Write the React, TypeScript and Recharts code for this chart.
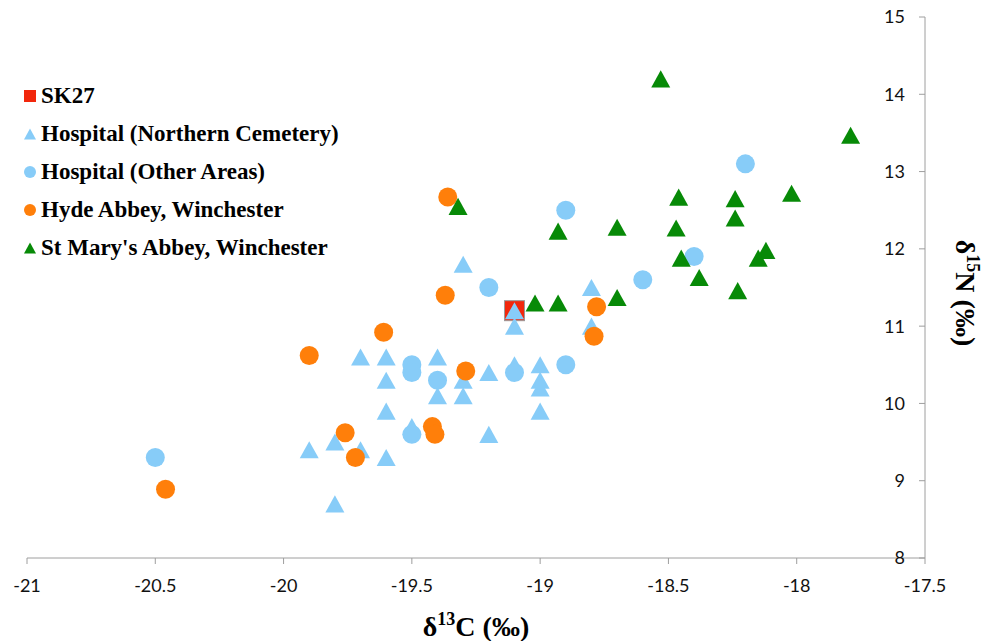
import React from 'react'
import { ScatterChart, Scatter, XAxis, YAxis, Legend } from 'recharts'

// values (δ13C, δ15N)
const sk27 = [[-19.1, 11.2]]
const hospitalNorthern = [
  [-19.8, 8.7], [-19.9, 9.4], [-19.8, 9.5], [-19.7, 9.4], [-19.6, 9.3], [-19.6, 9.9],
  [-19.6, 10.3], [-19.6, 10.6], [-19.7, 10.6], [-19.5, 9.7], [-19.4, 10.1], [-19.4, 10.6],
  [-19.3, 10.1], [-19.3, 10.3], [-19.3, 11.8], [-19.2, 9.6], [-19.2, 10.4], [-19.1, 10.5],
  [-19.1, 11.0], [-19.1, 11.2], [-19.0, 9.9], [-19.0, 10.2], [-19.0, 10.3], [-19.0, 10.5],
  [-18.8, 11.0], [-18.8, 11.5],
]
const hospitalOther = [
  [-20.5, 9.3], [-19.5, 10.5], [-19.5, 10.4], [-19.5, 9.6], [-19.4, 10.3], [-19.2, 11.5],
  [-19.1, 10.4], [-18.9, 10.5], [-18.9, 12.5], [-18.6, 11.6], [-18.4, 11.9], [-18.2, 13.1],
]
const hydeAbbey = [
  [-20.46, 8.89], [-19.9, 10.62], [-19.76, 9.62], [-19.72, 9.3], [-19.61, 10.92], [-19.42, 9.7],
  [-19.41, 9.6], [-19.37, 11.4], [-19.36, 12.67], [-19.29, 10.42], [-18.79, 10.87], [-18.78, 11.25],
]
const stMarys = [
  [-18.53, 14.2], [-17.79, 13.47], [-18.46, 12.67], [-18.24, 12.65], [-18.02, 12.72], [-18.24, 12.4],
  [-18.7, 12.28], [-18.47, 12.27], [-18.93, 12.23], [-19.32, 12.55], [-18.45, 11.88], [-18.12, 11.98],
  [-18.15, 11.88], [-18.38, 11.63], [-18.23, 11.46], [-19.02, 11.3], [-18.93, 11.3], [-18.7, 11.37],
]

const xTicks = [-21, -20.5, -20, -19.5, -19, -18.5, -18, -17.5]
const yTicks = [8, 9, 10, 11, 12, 13, 14, 15]

const toPoints = (rows: number[][]) => rows.map(([x, y]) => ({ x, y }))

type Kind = 'square' | 'triangle' | 'circle'

const SERIES: { name: string; rows: number[][]; color: string; kind: Kind; stroke?: string }[] = [
  { name: 'SK27', rows: sk27, color: '#F2270C', kind: 'square', stroke: '#9A9A9A' },
  { name: 'Hospital (Northern Cemetery)', rows: hospitalNorthern, color: '#87CCF8', kind: 'triangle' },
  { name: 'Hospital (Other Areas)', rows: hospitalOther, color: '#87CCF8', kind: 'circle' },
  { name: 'Hyde Abbey, Winchester', rows: hydeAbbey, color: '#FF7F0A', kind: 'circle' },
  { name: "St Mary's Abbey, Winchester", rows: stMarys, color: '#078A07', kind: 'triangle' },
]

function marker(kind: Kind, cx: number, cy: number, s: number, fill: string, stroke?: string) {
  const h = s / 2
  if (kind === 'square')
    return <rect x={cx - h} y={cy - h} width={s} height={s} fill={fill} stroke={stroke} strokeWidth={1} />
  if (kind === 'triangle')
    return <polygon points={`${cx},${cy - h * 0.9} ${cx + h},${cy + h * 0.9} ${cx - h},${cy + h * 0.9}`} fill={fill} />
  return <circle cx={cx} cy={cy} r={h} fill={fill} />
}

const serif = '"Liberation Serif", "Times New Roman", serif'

const renderLegend = () => (
  <div style={{ fontFamily: serif, fontWeight: 'bold', fontSize: 23, color: '#000' }}>
    {SERIES.map(s => (
      <div key={s.name} style={{ display: 'flex', alignItems: 'center', height: 38, whiteSpace: 'nowrap' }}>
        <svg width={14} height={14} style={{ marginRight: 4 }}>
          {marker(s.kind, 7, 7, 12, s.color)}
        </svg>
        <span>{s.name}</span>
      </div>
    ))}
  </div>
)

const titleStyle: React.CSSProperties = {
  position: 'absolute', fontFamily: serif, fontWeight: 'bold', fontSize: 28, whiteSpace: 'nowrap', color: '#000',
}

export default function App() {
  return (
    <div style={{ position: 'relative', width: 985, height: 641, background: '#fff' }}>
      <style>{'body{margin:0}'}</style>
      <ScatterChart width={985} height={641} margin={{ top: 17, right: 60, bottom: 43, left: 27 }}>
        <XAxis
          type="number"
          dataKey="x"
          domain={[-21, -17.5]}
          ticks={xTicks}
          height={40}
          stroke="#9E9E9E"
          tickSize={6}
          tickMargin={15}
          tick={{ fill: '#111', fontSize: 18, fontFamily: 'Lato, sans-serif' }}
        />
        <YAxis
          type="number"
          dataKey="y"
          orientation="right"
          mirror
          domain={[8, 15]}
          ticks={yTicks}
          stroke="#9E9E9E"
          tickSize={6}
          tickMargin={14}
          tick={{ fill: '#111', fontSize: 18, fontFamily: 'Lato, sans-serif' }}
        />
        <Legend
          layout="vertical"
          align="center"
          verticalAlign="middle"
          wrapperStyle={{ left: 23, top: 77, width: 400 }}
          content={renderLegend}
        />
        {SERIES.map(s => (
          <Scatter
            key={s.name}
            name={s.name}
            data={toPoints(s.rows)}
            fill={s.color}
            isAnimationActive={false}
            shape={(p: any) => marker(s.kind, p.cx, p.cy, s.kind === 'square' ? 20 : 19, s.color, s.stroke)}
          />
        ))}
      </ScatterChart>
      <div style={{ ...titleStyle, left: 476, top: 626, transform: 'translate(-50%, -50%)' }}>
        δ<sup style={{ fontSize: 18 }}>13</sup>C (‰)
      </div>
      <div style={{ ...titleStyle, left: 966, top: 293, transform: 'translate(-50%, -50%) rotate(90deg)' }}>
        δ<sup style={{ fontSize: 18 }}>15</sup>N (‰)
      </div>
    </div>
  )
}
